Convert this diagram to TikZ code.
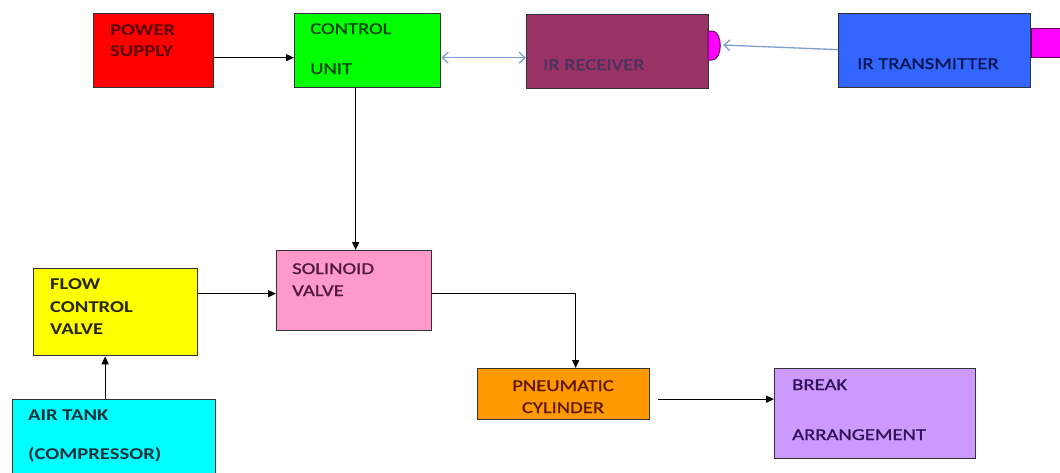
\documentclass[tikz,border=0pt]{standalone}
\usepackage{fontspec}
\setmainfont{Carlito}[FakeStretch=1.25]
\newfontfamily\medfont{Carlito}[FakeStretch=1.25,FakeBold=1.2]
\usetikzlibrary{arrows.meta}
\definecolor{boxline}{HTML}{333333}
\definecolor{irline}{HTML}{7F9FCF}
\definecolor{cpsred}{HTML}{FF0000}
\definecolor{cpsgreen}{HTML}{00FF00}
\definecolor{cpsrx}{HTML}{993366}
\definecolor{cpstx}{HTML}{3366FF}
\definecolor{cpspink}{HTML}{FF99CC}
\definecolor{cpsyellow}{HTML}{FFFF00}
\definecolor{cpscyan}{HTML}{00FFFF}
\definecolor{cpsorange}{HTML}{FF9900}
\definecolor{cpslilac}{HTML}{CC99FF}
\definecolor{cpsmag}{HTML}{FF00FF}
\definecolor{cpsmagline}{HTML}{660066}
\tikzset{
  blk/.style={draw=boxline, line width=1.3pt, minimum width=#1, inner sep=0pt, anchor=north west},
  lbl/.style={anchor=base west, inner sep=0pt, font=\medfont\fontsize{16.5}{18}\selectfont},
  blbl/.style={lbl, font=\fontsize{16.5}{18}\selectfont\bfseries},
  conn/.style={draw=black, line width=1.3pt, -{Triangle[length=8pt,width=7pt]}},
  irconn/.style={draw=irline, line width=1.3pt, -{Straight Barb[length=6pt,width=11pt]}},
  bump/.style={fill=cpsmag, draw=cpsmagline, line width=1pt},
}
\begin{document}
\begin{tikzpicture}[x=1pt,y=-1pt]
\useasboundingbox (0,0) rectangle (1060,472);
% boxes
\node[blk=120pt, minimum height=74pt, fill=cpsred] (ps) at (93,13) {};
\node[blk=146pt, minimum height=74pt, fill=cpsgreen] (cu) at (294,13) {};
\node[blk=182pt, minimum height=74pt, fill=cpsrx] (ir) at (526,14) {};
\node[blk=192pt, minimum height=74pt, fill=cpstx] (it) at (838,13) {};
\node[blk=155pt, minimum height=80pt, fill=cpspink] (sv) at (276,250) {};
\node[blk=164pt, minimum height=87pt, fill=cpsyellow] (fc) at (33,268) {};
\node[blk=203pt, minimum height=80pt, fill=cpscyan] (at) at (12,399) {};
\node[blk=172pt, minimum height=51pt, fill=cpsorange] (pc) at (477,368) {};
\node[blk=201pt, minimum height=90pt, fill=cpslilac] (br) at (774,368) {};
% bumps
\draw[bump] (708,31) -- (712,31) .. controls (723,31) and (723,60) .. (712,60) -- (708,60) -- cycle;
\draw[bump] (1061,28) -- (1031,28) -- (1031,57) -- (1061,57);
\coordinate (rxb) at (723,45);
% labels
\node[blbl, text={rgb,255:red,90;green,0;blue,0}] (t1) at (110,35) {POWER};
\node[blbl, text={rgb,255:red,90;green,0;blue,0}] (t2) at (110,56) {SUPPLY};
\node[lbl, text={rgb,255:red,0;green,70;blue,0}] (t3) at (310,34) {CONTROL};
\node[lbl, text={rgb,255:red,0;green,70;blue,0}] (t4) at (310,74) {UNIT};
\node[lbl, text={rgb,255:red,70;green,50;blue,90}] (t5) at (543,70) {IR RECEIVER};
\node[lbl, text={rgb,255:red,10;green,20;blue,80}] (t6) at (857,69) {IR TRANSMITTER};
\node[lbl, text={rgb,255:red,80;green,25;blue,65}] (t7) at (292,274) {SOLINOID};
\node[lbl, text={rgb,255:red,80;green,25;blue,65}] (t8) at (292,296) {VALVE};
\node[blbl, text={rgb,255:red,40;green,40;blue,0}] (t9) at (50,289) {FLOW};
\node[blbl, text={rgb,255:red,40;green,40;blue,0}] (t10) at (50,312) {CONTROL};
\node[blbl, text={rgb,255:red,40;green,40;blue,0}] (t11) at (50,334) {VALVE};
\node[blbl, text={rgb,255:red,20;green,50;blue,60}] (t12) at (28,420) {AIR TANK};
\node[blbl, text={rgb,255:red,20;green,50;blue,60}] (t13) at (28,459) {(COMPRESSOR)};
\node[lbl, anchor=base, text={rgb,255:red,95;green,25;blue,0}] (t14) at (563,391) {PNEUMATIC};
\node[lbl, anchor=base, text={rgb,255:red,95;green,25;blue,0}] (t15) at (563,413) {CYLINDER};
\node[lbl, text={rgb,255:red,50;green,20;blue,90}] (t16) at (792,390) {BREAK};
\node[lbl, text={rgb,255:red,50;green,20;blue,90}] (t17) at (792,440) {ARRANGEMENT};
% connectors
\draw[conn] ([yshift=-7pt]ps.east) -- ([yshift=-7pt]ps.east -| cu.west);
\draw[irconn, {Straight Barb[length=6pt,width=11pt]}-{Straight Barb[length=6pt,width=11pt]}] ([yshift=-7pt]cu.east) -- ([yshift=-7pt]cu.east -| ir.west);
\draw[irconn] ([yshift=1pt]it.west) -- (rxb);
\draw[conn] ([xshift=-12pt]cu.south) -- ([xshift=-12pt]cu.south |- sv.north);
\draw[conn] ([yshift=-3pt]fc.east |- sv.west) -- ([yshift=-3pt]sv.west);
\draw[conn] ([xshift=-9pt]at.north) -- ([xshift=-9pt]at.north |- fc.south);
\draw[conn] ([yshift=-3pt]sv.east) -| ([xshift=12pt]pc.north);
\draw[conn] ([xshift=8pt,yshift=-5pt]pc.east) -- ([yshift=-5pt]pc.east -| br.west);
\end{tikzpicture}
\end{document}
